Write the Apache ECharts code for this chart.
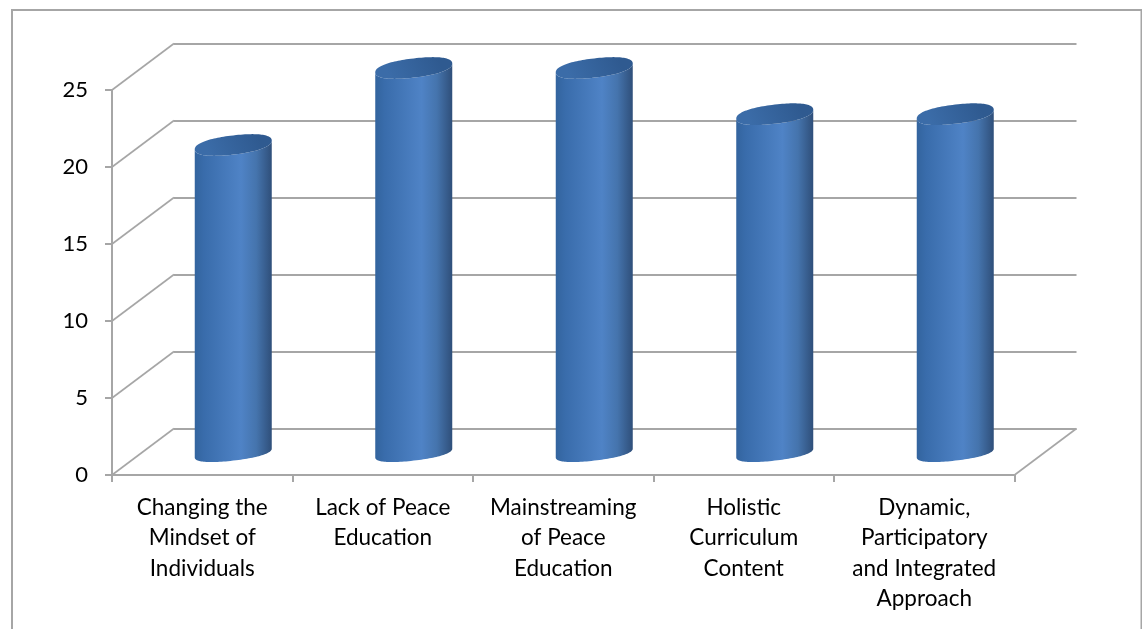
<!DOCTYPE html>
<html><head><meta charset="utf-8">
<style>html,body{margin:0;padding:0;background:#fff}#c{width:1142px;height:629px}</style>
<script src="https://cdn.jsdelivr.net/npm/echarts@6/dist/echarts.min.js"></script>
</head><body><div id="c"></div>
<script>
const categories = ["Changing the\nMindset of\nIndividuals","Lack of Peace\nEducation","Mainstreaming\nof Peace\nEducation","Holistic\nCurriculum\nContent","Dynamic,\nParticipatory\nand Integrated\nApproach"];
const values = [20,25,25,22,22];
const yTicks = [0,5,10,15,20,25];

const AXIS = '#a6a6a6';
const FONT = 'Lato, "Open Sans", sans-serif';
const DEPTH_X = 62, DEPTH_Y = -46.5;
const BAR_DX = 31, BAR_DY = -22, RX = 38.5, RY_TOP = 9.6, RY_BOT = 7.6, SLOPE = 0.115, ROUND = 0.88;

function ellipsePts(cx, cy, rx, ry, a0, a1, n) {
  const pts = [];
  for (let i = 0; i <= n; i++) {
    const t = a0 + (a1 - a0) * i / n;
    const ct = Math.cos(t), st = Math.sin(t);
    const x = rx * Math.sign(ct) * Math.pow(Math.abs(ct), ROUND);
    const y = ry * Math.sign(st) * Math.pow(Math.abs(st), ROUND);
    pts.push([cx + x, cy + y - x * SLOPE]);
  }
  return pts;
}
function renderCylinder(params, api) {
  const top = api.coord([api.value(0), api.value(1)]);
  const base = api.coord([api.value(0), 0]);
  const cx = top[0] + BAR_DX, ty = top[1] + BAR_DY, by = base[1] + BAR_DY;
  const botFront = ellipsePts(cx, by, RX, RY_BOT, 0, Math.PI, 60);
  const body = botFront.concat(ellipsePts(cx, ty, RX, RY_TOP, Math.PI, 0, 60));
  const lid = ellipsePts(cx, ty, RX, RY_TOP, 0, Math.PI * 2, 120);
  return { type: 'group', children: [
    { type: 'polygon', shape: { points: body }, style: { fill: new echarts.graphic.LinearGradient(0,0,1,0,[
      {offset:0,color:'#33649e'},{offset:0.12,color:'#396cab'},{offset:0.6,color:'#4f83c6'},{offset:0.8,color:'#4574ad'},{offset:1,color:'#2f4f7a'}]) } },
    { type: 'polygon', shape: { points: lid }, style: { fill: new echarts.graphic.LinearGradient(0.2,1,0.8,0,[
      {offset:0,color:'#3b6ca8'},{offset:1,color:'#2f5a90'}]) } }
  ]};
}
function renderDiagonal(params, api) {
  const g = params.coordSys, v = api.value(0);
  const y = api.coord([0, v])[1], x = g.x;
  const lines = [{ type:'line', shape:{x1:x,y1:y,x2:x+DEPTH_X,y2:y+DEPTH_Y}, style:{stroke:AXIS,lineWidth:1.6} }];
  if (v === 0) lines.push({ type:'line', shape:{x1:x+g.width,y1:y,x2:x+g.width+DEPTH_X,y2:y+DEPTH_Y}, style:{stroke:AXIS,lineWidth:1.6} });
  return { type:'group', children: lines };
}

const chart = echarts.init(document.getElementById('c'), null, {renderer:'canvas'});
chart.setOption({
  animation:false,
  backgroundColor:'#fff',
  graphic:[{type:'rect',left:9.5,top:7.5,z:-10,silent:true,shape:{width:1129.5,height:700},style:{fill:'none',stroke:AXIS,lineWidth:2}}],
  grid:[
    {left:112,top:90,width:902.5,height:385},
    {left:174,top:43.5,width:902.5,height:385}
  ],
  xAxis:[
    {type:'category',gridIndex:0,data:categories,boundaryGap:true,
     axisLine:{lineStyle:{color:AXIS,width:2}},axisTick:{show:true,length:7,lineStyle:{color:AXIS,width:2}},
     axisLabel:{interval:0,color:'#000',fontFamily:FONT,fontSize:22.5,lineHeight:30.5,margin:17,align:'center'},splitLine:{show:false}},
    {type:'category',gridIndex:1,data:categories,show:false}
  ],
  yAxis:[
    {type:'value',gridIndex:0,min:0,max:25,interval:5,
     axisLine:{show:true,lineStyle:{color:AXIS,width:2}},axisTick:{show:true,length:7,lineStyle:{color:AXIS,width:2}},
     axisLabel:{color:'#000',fontFamily:FONT,fontSize:22,margin:24},splitLine:{show:false}},
    {type:'value',gridIndex:1,min:0,max:25,interval:5,
     axisLine:{show:false},axisTick:{show:false},axisLabel:{show:false},
     splitLine:{show:true,lineStyle:{color:AXIS,width:2}}}
  ],
  series:[
    {type:'custom',xAxisIndex:0,yAxisIndex:0,silent:true,z:1,data:yTicks.map(v=>[v]),encode:{x:-1,y:0},renderItem:renderDiagonal},
    {type:'custom',xAxisIndex:0,yAxisIndex:0,silent:true,z:5,data:values.map((v,i)=>[i,v]),encode:{x:0,y:1},renderItem:renderCylinder}
  ]
});
</script></body></html>
